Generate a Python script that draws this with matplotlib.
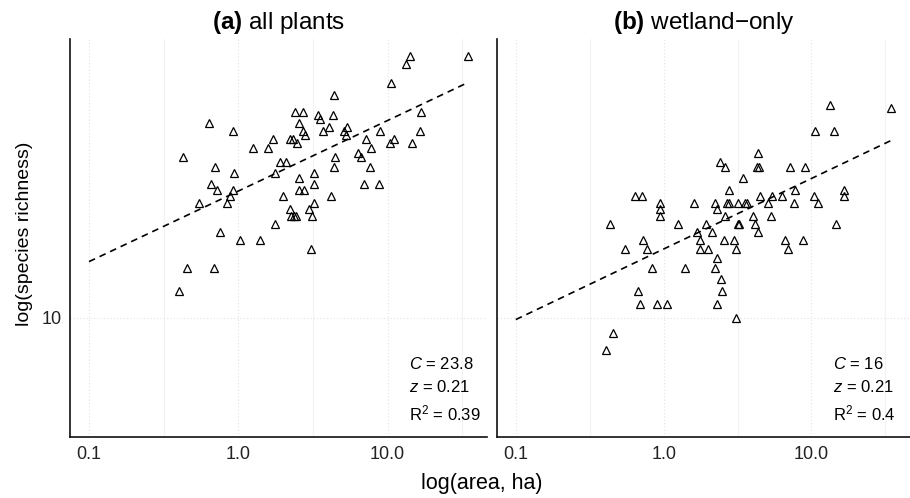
import numpy as np
import matplotlib
matplotlib.use("Agg")
import matplotlib.pyplot as plt
from matplotlib.ticker import FixedLocator, NullFormatter

plt.rcParams['font.family'] = ['Liberation Sans', 'DejaVu Sans']
plt.rcParams['mathtext.fontset'] = 'custom'
plt.rcParams['mathtext.rm'] = 'Liberation Sans'
plt.rcParams['mathtext.it'] = 'Liberation Sans:italic'
plt.rcParams['mathtext.bf'] = 'Liberation Sans:bold'

# (a) all plants
area_a = [14.1, 34.6, 13.4, 10.5, 4.36, 2.41, 2.72, 16.7, 3.42, 4.32,
          3.55, 2.55, 0.637, 4.06, 5.36, 0.928, 2.70, 3.67, 5.09, 8.97,
          16.5, 2.78, 5.30, 1.70, 2.21, 2.33, 7.15, 11.0, 2.47, 10.4,
          14.7, 1.25, 1.59, 7.72, 6.32, 0.428, 4.43, 6.62, 1.91, 2.10,
          0.702, 4.36, 7.65, 0.942, 1.75, 3.23, 2.54, 0.660, 3.20, 7.01,
          8.80, 0.718, 0.928, 2.55, 2.74, 1.99, 4.19, 0.882, 0.543, 0.838,
          3.23, 2.21, 2.99, 2.26, 2.35, 2.45, 3.12, 1.77, 0.759, 1.03,
          1.39, 3.09, 0.451, 0.688, 0.402]
rich_a = [60, 60, 57, 50, 46, 41, 41, 41, 40, 40,
          39, 38, 38, 37, 37, 36, 36, 36, 36, 36,
          36, 35, 35, 34, 34, 34, 34, 34, 33, 33,
          33, 32, 32, 32, 31, 30, 30, 30, 29, 29,
          28, 28, 28, 27, 27, 27, 26, 25, 25, 25,
          25, 24, 24, 24, 24, 23, 23, 23, 22, 22,
          22, 21, 21, 20, 20, 20, 20, 19, 18, 17,
          17, 16, 14, 14, 12]

# (b) wetland-only
area_b = [13.4, 34.7, 10.6, 14.3, 4.33, 2.40, 2.59, 4.28, 4.40, 7.17,
          8.99, 3.43, 2.75, 7.70, 16.7, 0.639, 0.712, 4.49, 5.37, 6.34,
          10.4, 16.7, 0.95, 1.61, 2.21, 2.69, 2.76, 3.20, 3.56, 3.68,
          5.10, 7.62, 11.0, 2.31, 0.94, 0.94, 2.59, 4.03, 5.32, 0.433,
          1.26, 1.93, 3.18, 3.24, 4.16, 14.7, 1.69, 2.11, 4.38, 0.723,
          1.76, 2.55, 3.01, 6.61, 8.75, 0.548, 0.766, 1.75, 2.00, 3.10,
          6.95, 2.30, 0.84, 1.40, 2.22, 2.44, 0.667, 2.47, 0.695, 0.898,
          1.05, 2.31, 3.07, 0.455, 0.407]
rich_b = [43, 42, 36, 36, 31, 29, 28, 28, 28, 28,
          28, 26, 24, 24, 24, 23, 23, 23, 23, 23,
          23, 23, 22, 22, 22, 22, 22, 22, 22, 22,
          22, 22, 22, 21, 21, 20, 20, 20, 20, 19,
          19, 19, 19, 19, 19, 19, 18, 18, 18, 17,
          17, 17, 17, 17, 17, 16, 16, 16, 16, 16,
          16, 15, 14, 14, 14, 13, 12, 12, 11, 11,
          11, 11, 10, 9, 8]

panels = [
    ("(a)", " all plants", area_a, rich_a, 23.8, 0.21, "0.39"),
    ("(b)", " wetland\u2212only", area_b, rich_b, 16, 0.21, "0.4"),
]

W, H = 910, 498
fig = plt.figure(figsize=(W / 100, H / 100), dpi=100)

boxes = [(70, 487), (497, 910)]
top, bottom = 39, 436.7
xlim = (0.0746, 46.4)
ylim = (4.42, 67.5)

for (tag, name, area, rich, C, z, r2), (x0, x1) in zip(panels, boxes):
    ax = fig.add_axes([x0 / W, (H - bottom) / H, (x1 - x0) / W, (bottom - top) / H])
    ax.set_xscale('log')
    ax.set_yscale('log')
    ax.set_xlim(*xlim)
    ax.set_ylim(*ylim)

    # grid
    for gx in [0.1, 1, 10]:
        ax.axvline(gx, color='#e2e2e2', lw=0.8, ls=(0, (1, 2)), zorder=0)
    for gx in [0.316, 3.16, 31.6]:
        ax.axvline(gx, color='#f2f2f2', lw=0.8, zorder=0)
    ax.axhline(10, color='#e2e2e2', lw=0.8, ls=(0, (1, 2)), zorder=0)

    # fitted power law
    xs = np.logspace(np.log10(0.1), np.log10(max(area)), 100)
    ax.plot(xs, C * xs ** z, color='black', lw=1.2, ls=(0, (4, 3)), zorder=2)

    ax.plot(area, rich, ls='', marker='^', ms=6.2, mfc='none', mec='black', mew=0.9, zorder=3)

    ax.xaxis.set_major_locator(FixedLocator([0.1, 1, 10]))
    ax.xaxis.set_minor_formatter(NullFormatter())
    ax.set_xticklabels(['0.1', '1.0', '10.0'])
    ax.yaxis.set_major_locator(FixedLocator([10]))
    ax.yaxis.set_minor_locator(FixedLocator([]))
    ax.yaxis.set_minor_formatter(NullFormatter())
    ax.set_yticklabels(['10'])
    ax.tick_params(which='both', length=0, labelsize=13, colors='#222222')
    ax.tick_params(axis='x', pad=7)
    ax.tick_params(axis='y', pad=6)
    if x0 > 100:
        ax.set_yticklabels([])

    for s in ['top', 'right']:
        ax.spines[s].set_visible(False)
    for s in ['left', 'bottom']:
        ax.spines[s].set_linewidth(1.2)
        ax.spines[s].set_color('#111111')

    ax.set_title(r'$\mathbf{' + tag + '}$' + name, fontsize=17.5, pad=7)

    tx = (x0 + (409.3 - 70) * (x1 - x0) / (487 - 70)) / W
    fig.text(tx, 1 - 364 / H, r'$C$ = %g' % C, fontsize=12, va='center', ha='left')
    fig.text(tx, 1 - 387.3 / H, r'$z$ = %.2f' % z, fontsize=12, va='center', ha='left')
    fig.text(tx, 1 - 413 / H, r'R$^2$ = ' + r2, fontsize=12, va='center', ha='left')

fig.text(481.5 / W, 1 - 483 / H, 'log(area, ha)', fontsize=15.5, ha='center', va='center')
fig.text(25 / W, 1 - 234 / H, 'log(species richness)', fontsize=14, ha='center', va='center',
         rotation=90)

fig.savefig('out.png', dpi=100)
